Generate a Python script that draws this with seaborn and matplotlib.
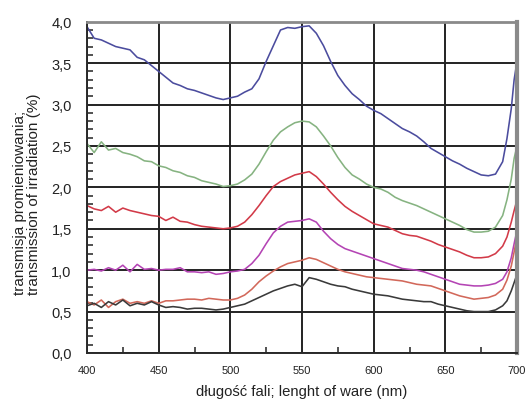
import numpy as np
import pandas as pd
import seaborn as sns
import matplotlib
matplotlib.use("Agg")
import matplotlib.pyplot as plt
from matplotlib.ticker import MultipleLocator, FuncFormatter

sns.set_theme(style="white")
plt.rcParams['font.family'] = ['Liberation Sans', 'DejaVu Sans']

# wavelength grid (nm)
wavelength = list(range(400, 691, 5)) + [693, 696, 698, 700]

blue = [3.94, 3.80, 3.78, 3.74, 3.70, 3.68, 3.66, 3.57, 3.54, 3.47,
        3.40, 3.33, 3.26, 3.23, 3.19, 3.17, 3.14, 3.11, 3.08, 3.06,
        3.08, 3.10, 3.15, 3.19, 3.31, 3.52, 3.71, 3.90, 3.93, 3.92,
        3.94, 3.95, 3.86, 3.71, 3.52, 3.35, 3.23, 3.13, 3.06, 2.98,
        2.93, 2.89, 2.83, 2.77, 2.71, 2.67, 2.62, 2.55, 2.47, 2.42,
        2.37, 2.32, 2.28, 2.23, 2.19, 2.15, 2.14, 2.16, 2.31,
        2.59, 2.95, 3.30, 3.52]

green = [2.53, 2.42, 2.55, 2.45, 2.47, 2.42, 2.40, 2.37, 2.32, 2.31,
         2.26, 2.24, 2.20, 2.18, 2.14, 2.12, 2.08, 2.06, 2.04, 2.01,
         2.02, 2.04, 2.09, 2.16, 2.28, 2.43, 2.57, 2.67, 2.73, 2.78,
         2.80, 2.79, 2.73, 2.62, 2.50, 2.36, 2.24, 2.15, 2.10, 2.04,
         2.00, 1.98, 1.94, 1.88, 1.84, 1.81, 1.78, 1.74, 1.70, 1.66,
         1.62, 1.58, 1.54, 1.49, 1.46, 1.46, 1.47, 1.52, 1.66,
         1.85, 2.10, 2.35, 2.50]

red = [1.78, 1.74, 1.72, 1.77, 1.70, 1.75, 1.72, 1.70, 1.68, 1.66,
       1.65, 1.60, 1.64, 1.59, 1.58, 1.55, 1.53, 1.52, 1.51, 1.50,
       1.51, 1.53, 1.58, 1.67, 1.78, 1.90, 2.01, 2.07, 2.11, 2.15,
       2.17, 2.19, 2.13, 2.04, 1.94, 1.85, 1.77, 1.71, 1.66, 1.61,
       1.56, 1.54, 1.52, 1.48, 1.44, 1.42, 1.41, 1.38, 1.35, 1.31,
       1.28, 1.25, 1.22, 1.18, 1.15, 1.15, 1.16, 1.20, 1.29,
       1.40, 1.58, 1.72, 1.85]

magenta = [1.00, 1.01, 0.99, 1.03, 1.00, 1.06, 0.98, 1.07, 1.01, 1.02,
           1.00, 1.01, 1.01, 1.03, 0.98, 0.98, 0.97, 0.98, 0.95, 0.96,
           0.98, 0.99, 1.01, 1.08, 1.18, 1.32, 1.45, 1.53, 1.58, 1.59,
           1.60, 1.62, 1.58, 1.47, 1.38, 1.31, 1.26, 1.23, 1.20, 1.17,
           1.14, 1.11, 1.08, 1.05, 1.02, 1.01, 1.00, 0.98, 0.95, 0.92,
           0.89, 0.86, 0.83, 0.82, 0.81, 0.81, 0.82, 0.84, 0.89,
           0.98, 1.15, 1.32, 1.48]

salmon = [0.62, 0.58, 0.64, 0.55, 0.62, 0.65, 0.60, 0.62, 0.60, 0.63,
          0.60, 0.63, 0.63, 0.64, 0.65, 0.65, 0.64, 0.66, 0.65, 0.64,
          0.64, 0.66, 0.70, 0.77, 0.86, 0.93, 0.99, 1.04, 1.08, 1.10,
          1.12, 1.15, 1.13, 1.09, 1.05, 1.01, 0.98, 0.96, 0.94, 0.92,
          0.91, 0.90, 0.89, 0.88, 0.87, 0.85, 0.83, 0.82, 0.81, 0.78,
          0.75, 0.72, 0.69, 0.67, 0.65, 0.66, 0.67, 0.70, 0.77,
          0.88, 1.05, 1.22, 1.40]

black = [0.57, 0.60, 0.55, 0.62, 0.58, 0.64, 0.57, 0.60, 0.58, 0.62,
         0.58, 0.55, 0.56, 0.55, 0.53, 0.54, 0.54, 0.53, 0.52, 0.53,
         0.55, 0.57, 0.59, 0.63, 0.67, 0.71, 0.75, 0.78, 0.81, 0.83,
         0.80, 0.91, 0.89, 0.86, 0.83, 0.81, 0.80, 0.77, 0.75, 0.73,
         0.71, 0.70, 0.69, 0.67, 0.65, 0.64, 0.63, 0.62, 0.62, 0.59,
         0.57, 0.55, 0.53, 0.51, 0.50, 0.50, 0.50, 0.52, 0.57,
         0.63, 0.75, 0.85, 0.95]

series = {"A": blue, "B": green, "C": red, "D": magenta, "E": salmon, "F": black}
colors = {"A": "#4b4c9e", "B": "#86b381", "C": "#d23a48", "D": "#b444b4",
          "E": "#d2685a", "F": "#3a3a3a"}

df = pd.concat(
    [pd.DataFrame({"nm": wavelength, "t": vals, "sample": name})
     for name, vals in series.items()],
    ignore_index=True,
)

W, H = 527, 402
fig = plt.figure(figsize=(W / 100, H / 100), dpi=100)
left, right, top, bottom = 87, 517, 22.7, 354
ax = fig.add_axes([left / W, 1 - bottom / H, (right - left) / W, (bottom - top) / H])

sns.lineplot(data=df, x="nm", y="t", hue="sample", palette=colors,
             linewidth=1.15, legend=False, ax=ax, estimator=None, sort=False)

ax.set_xlim(400, 700)
ax.set_ylim(0, 4.0)
ax.xaxis.set_major_locator(MultipleLocator(50))
ax.xaxis.set_minor_locator(MultipleLocator(25))
ax.yaxis.set_major_locator(MultipleLocator(0.5))
ax.yaxis.set_minor_locator(MultipleLocator(0.1))
ax.yaxis.set_major_formatter(FuncFormatter(lambda v, p: f"{v:.1f}".replace(".", ",")))

ax.grid(True, which="major", color="#222222", linewidth=1.4)
ax.set_axisbelow(True)

ax.tick_params(axis="y", which="major", left=True, length=0, pad=11,
               labelsize=10.5, colors="#222222")
ax.tick_params(axis="x", which="major", bottom=True, length=0, pad=9,
               labelsize=8, colors="#222222")
ax.tick_params(axis="both", which="minor", direction="in", length=4, width=1.2,
               color="#333333", left=True, bottom=True, right=False, top=False)

for side in ["left", "bottom"]:
    ax.spines[side].set_color("#2a2a2a")
    ax.spines[side].set_linewidth(1.4)
ax.spines["top"].set_color("#8a8a8a")
ax.spines["top"].set_linewidth(2.0)
ax.spines["right"].set_color("#8a8a8a")
ax.spines["right"].set_linewidth(3.0)

ax.set_xlabel("długość fali; lenght of ware (nm)", fontsize=10.7, color="#222222")
ax.xaxis.set_label_coords(0.5, -0.095)
ax.set_ylabel("")
fig.text(27 / W, 1 - 295 / H, "transmisja promieniowania;\ntransmission of irradiation (%)",
         rotation=90, ha="center", va="bottom", multialignment="left",
         fontsize=11, color="#222222", linespacing=1.0)

fig.savefig("out.png", dpi=100)
